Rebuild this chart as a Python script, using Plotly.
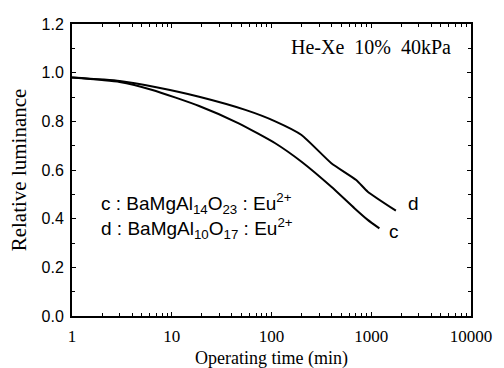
import plotly.graph_objects as go
import numpy as np

# Operating time (min) and relative luminance
time_d = [1, 3.0, 7.0, 18.8, 54.7, 109, 200, 398, 707, 922, 1766]
lum_d = [0.98, 0.966, 0.94, 0.901, 0.847, 0.80, 0.744, 0.628, 0.559, 0.511, 0.433]

time_c = [1, 3.0, 6.4, 18.8, 46.9, 109, 200, 398, 678, 922, 1207]
lum_c = [0.98, 0.962, 0.929, 0.863, 0.792, 0.71, 0.634, 0.531, 0.443, 0.395, 0.36]

x_tickvals = [1, 10, 100, 1000, 10000]
x_ticktext = ["1", "10", "100", "1000", "10000"]
y_tickvals = [0.0, 0.2, 0.4, 0.6, 0.8, 1.0, 1.2]
y_ticktext = ["0.0", "0.2", "0.4", "0.6", "0.8", "1.0", "1.2"]

SERIF = "Liberation Serif"
SANS = "Liberation Sans"

fig = go.Figure()
fig.add_trace(go.Scatter(x=time_d, y=lum_d, mode="lines",
                         line=dict(color="black", width=2, shape="spline", smoothing=0.5), showlegend=False))
fig.add_trace(go.Scatter(x=time_c, y=lum_c, mode="lines",
                         line=dict(color="black", width=2, shape="spline", smoothing=0.5), showlegend=False))

axis_common = dict(showline=True, linecolor="black", linewidth=2, mirror="ticks",
                   ticks="inside", ticklen=4, tickwidth=1, tickcolor="black",
                   showgrid=False, zeroline=False)

fig.update_xaxes(type="log", range=[0, 4], tickvals=x_tickvals, ticktext=x_ticktext,
                 tickfont=dict(family=SERIF, size=17, color="black"), ticklabelstandoff=4,
                 minor=dict(ticks="inside", ticklen=3, tickcolor="black", dtick="D1"),
                 **axis_common)
fig.update_yaxes(range=[0, 1.2], tickvals=y_tickvals, ticktext=y_ticktext,
                 tickfont=dict(family=SANS, size=16, color="black"), ticklabelstandoff=3,
                 minor=dict(ticks="inside", ticklen=3, tickcolor="black", dtick=0.1),
                 **axis_common)

# axis titles
fig.add_annotation(xref="paper", yref="paper", x=0.5, y=-0.147, text="Operating time (min)",
                   showarrow=False, xanchor="center", yanchor="middle",
                   font=dict(family=SERIF, size=18, color="black"))
fig.add_annotation(xref="paper", yref="paper", x=-0.132, y=0.5, text="Relative luminance",
                   showarrow=False, xanchor="center", yanchor="middle", textangle=-90,
                   font=dict(family=SERIF, size=21, color="black"))

fig.add_annotation(xref="paper", yref="paper", x=0.955, y=0.92, text="He-Xe  10%  40kPa",
                   showarrow=False, xanchor="right", yanchor="middle",
                   font=dict(family=SERIF, size=20, color="black"))
fig.add_annotation(xref="paper", yref="paper", x=0.068, y=0.384,
                   text="c : BaMgAl<sub>14</sub>O<sub>23</sub> : Eu<sup>2+</sup>",
                   showarrow=False, xanchor="left", yanchor="middle",
                   font=dict(family=SANS, size=19, color="black"))
fig.add_annotation(xref="paper", yref="paper", x=0.068, y=0.301,
                   text="d : BaMgAl<sub>10</sub>O<sub>17</sub> : Eu<sup>2+</sup>",
                   showarrow=False, xanchor="left", yanchor="middle",
                   font=dict(family=SANS, size=19, color="black"))
fig.add_annotation(x=np.log10(time_d[-1]), y=lum_d[-1], text="d", showarrow=False,
                   xanchor="left", yanchor="middle", xshift=10, yshift=7,
                   font=dict(family=SANS, size=19, color="black"))
fig.add_annotation(x=np.log10(time_c[-1]), y=lum_c[-1], text="c", showarrow=False,
                   xanchor="left", yanchor="middle", xshift=8, yshift=-3,
                   font=dict(family=SANS, size=19, color="black"))

fig.update_layout(width=504, height=368, margin=dict(l=72, r=30, t=24, b=52),
                  paper_bgcolor="white", plot_bgcolor="white")
fig.write_html("out.html")
